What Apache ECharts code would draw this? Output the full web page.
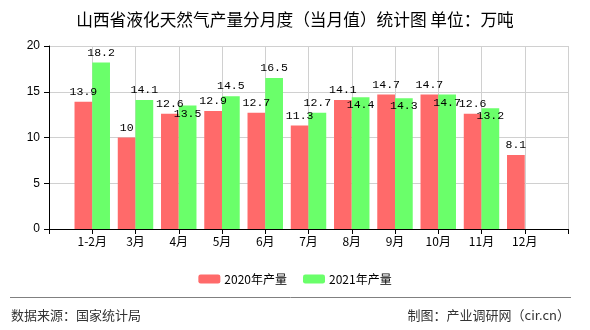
<!DOCTYPE html>
<html>
<head>
<meta charset="utf-8">
<script src="https://cdn.jsdelivr.net/npm/echarts@6/dist/echarts.min.js"></script>
<style>html,body{margin:0;padding:0;background:#fff;}#c{width:590px;height:330px;}</style>
</head>
<body>
<div id="c"></div>
<script>
var categories = ['', '1-2月', '3月', '4月', '5月', '6月', '7月', '8月', '9月', '10月', '11月', '12月', ''];
var values2020 = [null, 13.9, 10, 12.6, 12.9, 12.7, 11.3, 14.1, 14.7, 14.7, 12.6, 8.1, null];
var values2021 = [null, 18.2, 14.1, 13.5, 14.5, 16.5, 12.7, 14.4, 14.3, 14.7, 13.2, null, null];
var yTicks = [0, 5, 10, 15, 20];
var seriesNames = ['2020年产量', '2021年产量'];
var titleText = '山西省液化天然气产量分月度（当月值）统计图 单位：万吨';
var sourceText = '数据来源：国家统计局';
var makerText = '制图：产业调研网（cir.cn）';

var labelFont = {fontFamily: 'Liberation Mono', fontSize: 11.5, color: '#000'};

var data2021 = values2021.map(function (v, i) {
  var other = values2020[i];
  if (v != null && other != null && v - other < 1.2) {
    return {value: v, label: {position: 'insideTop', distance: 2}};
  }
  return v;
});

var chart = echarts.init(document.getElementById('c'));
chart.setOption({
  animation: false,
  title: {
    text: titleText, left: 'center', top: 6,
    textStyle: {fontFamily: 'Noto Sans CJK SC', fontSize: 16.7, fontWeight: 'normal', color: '#000'}
  },
  legend: {
    data: seriesNames, top: 268, left: 'center', itemWidth: 22, itemHeight: 9, itemGap: 16,
    textStyle: {fontFamily: 'Noto Sans CJK SC', fontSize: 12, color: '#000', padding: [0, 0, 0, -1]}
  },
  grid: {left: 49, right: 22, top: 46, bottom: 101, containLabel: false},
  xAxis: {
    type: 'category', data: categories, boundaryGap: false,
    axisLine: {lineStyle: {color: '#000', width: 1}},
    axisTick: {show: true, length: 5, lineStyle: {color: '#000'}},
    axisLabel: {color: '#000', fontFamily: 'Noto Sans CJK SC', fontSize: 12, margin: 6, interval: 0},
    splitLine: {show: true, lineStyle: {color: '#d0d0d0'}}
  },
  yAxis: {
    type: 'value', min: yTicks[0], max: yTicks[yTicks.length - 1], interval: 5,
    axisLine: {show: true, lineStyle: {color: '#000'}},
    axisTick: {show: true, length: 5, lineStyle: {color: '#000'}},
    axisLabel: {color: '#000', fontFamily: 'Liberation Sans', fontSize: 12, margin: 9},
    splitLine: {show: true, lineStyle: {color: '#d0d0d0'}}
  },
  series: [
    {
      name: seriesNames[0], type: 'bar', data: values2020, barWidth: '41%', barGap: '0%',
      itemStyle: {color: '#ff6a6a'},
      label: Object.assign({show: true, position: 'top', distance: 4}, labelFont)
    },
    {
      name: seriesNames[1], type: 'bar', data: data2021, barWidth: '41%', barGap: '0%',
      itemStyle: {color: '#6aff6a'},
      label: Object.assign({show: true, position: 'top', distance: 4}, labelFont)
    }
  ],
  graphic: [
    {type: 'line', shape: {x1: 10, y1: 297.5, x2: 571, y2: 297.5}, style: {stroke: '#808080', lineWidth: 1}},
    {type: 'text', left: 11, top: 309, style: {text: sourceText, font: '13px "Noto Sans CJK SC"', fill: '#333'}},
    {type: 'text', right: 20, top: 309, style: {text: makerText, font: '13px "Noto Sans CJK SC"', fill: '#333'}}
  ]
});
</script>
</body>
</html>
